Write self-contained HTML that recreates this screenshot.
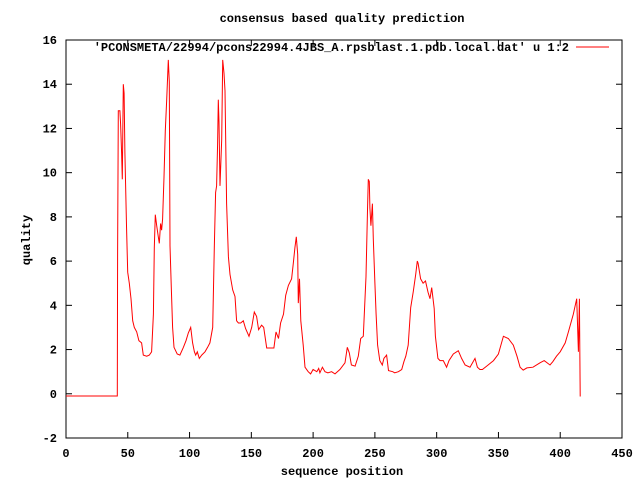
<!DOCTYPE html>
<html><head><meta charset="utf-8">
<style>
body{margin:0;background:#fff;}
svg{display:block;font-family:"Liberation Mono","DejaVu Sans Mono",monospace;font-size:12px;font-weight:bold;}
</style></head>
<body>
<svg id="chart" width="640" height="480" viewBox="0 0 640 480">
<rect x="0" y="0" width="640" height="480" fill="#fff"/>
<text x="342" y="22" text-anchor="middle">consensus based quality prediction</text>
<text x="342" y="475" text-anchor="middle">sequence position</text>
<text x="30" y="240" text-anchor="middle" transform="rotate(-90 30 240)">quality</text>
<g id="axes"></g>
<g id="series"></g>
<text x="569" y="51" text-anchor="end">'PCONSMETA/22994/pcons22994.4JBS_A.rpsblast.1.pdb.local.dat' u 1:2</text>
<line x1="576" y1="47" x2="609" y2="47" stroke="#f00" stroke-width="1"/>
</svg>
<script>
const xTicks=[0,50,100,150,200,250,300,350,400,450];
const yTicks=[-2,0,2,4,6,8,10,12,14,16];
const seqPos=[0,41.5,41.8,42.3,43.6,44.2,45,45.6,46.4,47,47.7,49,49.9,51.2,52.6,54,55.3,57.2,59,61.2,62.6,65.3,67.4,69.3,70.7,71.5,72.3,73.4,74.7,75.5,76.6,77.4,78.2,79.3,80.4,81.5,82.8,83.6,84.2,85.2,86.3,87.4,90,92.2,95,97.1,99,100.9,102.5,103.9,105,106.3,107.9,109.8,112.5,114.6,116.5,118.7,120,121.1,121.9,122.7,123.3,123.8,124.6,126,126.8,127.9,128.7,130,131.4,132.7,134.9,136.8,138.1,139.5,141.4,143.5,145.4,148.1,150.3,152.4,154.3,155.9,158.3,160,162.4,168.3,170,172,173.7,176,177.8,180,182.6,184,185.3,186.4,187.5,188,189,190,192,193.4,196,198,200,203,204.5,205.5,207.5,209.6,212,215,217.7,221.7,225.8,227.7,229.3,231,234,236.6,238.5,240.6,242.8,244,244.7,245.5,246,246.8,248,248.7,250,251,252.2,254,256,257.3,259.5,261,264.4,266,269,271.7,273.5,275,277,279,281,283,284.3,285,287,289,291,293,294.6,296,298,299,301,302.7,305.4,308,310,313.5,317.5,320.2,323,327,331,333,335,337,340.5,346,350,354,358,362,365,367.5,370,373,378,383.6,387,391.7,394,397,400,404,406.6,410.6,413.3,414.7,415.5,416.2,416.6,417,420];
const quality=[-0.1,-0.1,6.3,12.8,12.8,12.2,10.9,9.7,14.0,13.6,10.9,7.6,5.5,5.0,4.3,3.3,3.0,2.8,2.4,2.3,1.75,1.7,1.75,1.9,3.6,6.6,8.1,7.6,7.1,6.8,7.7,7.4,7.9,9.8,11.9,13.3,15.1,14.1,6.7,4.8,3.0,2.1,1.8,1.75,2.1,2.4,2.75,3.0,2.3,1.9,1.75,1.9,1.6,1.75,1.9,2.1,2.3,3.0,6.6,9.1,9.4,11.3,13.3,12.3,9.4,11.5,15.1,14.5,13.7,8.6,6.2,5.4,4.7,4.4,3.3,3.2,3.2,3.3,2.95,2.6,3.0,3.7,3.5,2.9,3.1,3.0,2.07,2.07,2.8,2.5,3.2,3.6,4.45,4.9,5.2,5.9,6.6,7.1,6.3,4.1,5.2,3.3,2.2,1.2,1.0,0.9,1.1,1.0,1.15,0.95,1.2,1.0,0.95,1.0,0.9,1.1,1.4,2.1,1.85,1.3,1.25,1.7,2.5,2.6,5.3,8.3,9.7,9.6,8.4,7.6,8.6,7.0,5.0,3.6,2.2,1.5,1.3,1.6,1.75,1.05,1.0,0.95,1.0,1.1,1.45,1.7,2.2,3.9,4.6,5.4,6.0,5.9,5.2,5.0,5.1,4.6,4.3,4.8,3.85,2.6,1.6,1.5,1.5,1.2,1.5,1.8,1.95,1.6,1.3,1.2,1.6,1.2,1.1,1.1,1.25,1.5,1.8,2.6,2.5,2.2,1.7,1.2,1.07,1.17,1.2,1.4,1.5,1.3,1.45,1.7,1.9,2.3,2.8,3.6,4.3,1.9,4.3,-0.1,-0.1];
const L=66,R=622,T=40,B=438,xMin=0,xMax=450,yMin=-2,yMax=16;
const sx=v=>L+(v-xMin)/(xMax-xMin)*(R-L);
const sy=v=>B-(v-yMin)/(yMax-yMin)*(B-T);
const NS='http://www.w3.org/2000/svg';
const axes=document.getElementById('axes');
const box=document.createElementNS(NS,'rect');
box.setAttribute('x',L);box.setAttribute('y',T);box.setAttribute('width',R-L);box.setAttribute('height',B-T);
box.setAttribute('fill','none');box.setAttribute('stroke','#000');box.setAttribute('stroke-width','1');


axes.appendChild(box);
xTicks.forEach(t=>{
  const x=sx(t);
  [[B,B-6],[T,T+6]].forEach(p=>{
    const l=document.createElementNS(NS,'line');
    l.setAttribute('x1',x);l.setAttribute('x2',x);l.setAttribute('y1',p[0]);l.setAttribute('y2',p[1]);l.setAttribute('stroke','#000');
    
    
    axes.appendChild(l);
  });
  const tx=document.createElementNS(NS,'text');
  tx.setAttribute('x',x);tx.setAttribute('y',B+19);tx.setAttribute('text-anchor','middle');tx.textContent=t;
  
  
  axes.appendChild(tx);
});
yTicks.forEach(t=>{
  const y=sy(t);
  [[L,L+6],[R,R-6]].forEach(p=>{
    const l=document.createElementNS(NS,'line');
    l.setAttribute('x1',p[0]);l.setAttribute('x2',p[1]);l.setAttribute('y1',y);l.setAttribute('y2',y);l.setAttribute('stroke','#000');
    
    
    axes.appendChild(l);
  });
  const tx=document.createElementNS(NS,'text');
  tx.setAttribute('x',L-9);tx.setAttribute('y',y+4);tx.setAttribute('text-anchor','end');tx.textContent=t;
  
  
  axes.appendChild(tx);
});
const pl=document.createElementNS(NS,'polyline');
pl.setAttribute('points',seqPos.map((x,i)=>sx(x).toFixed(1)+','+sy(quality[i]).toFixed(1)).join(' '));
pl.setAttribute('fill','none');pl.setAttribute('stroke','#f00');pl.setAttribute('stroke-width','1');


document.getElementById('series').appendChild(pl);
</script>
</body></html>
